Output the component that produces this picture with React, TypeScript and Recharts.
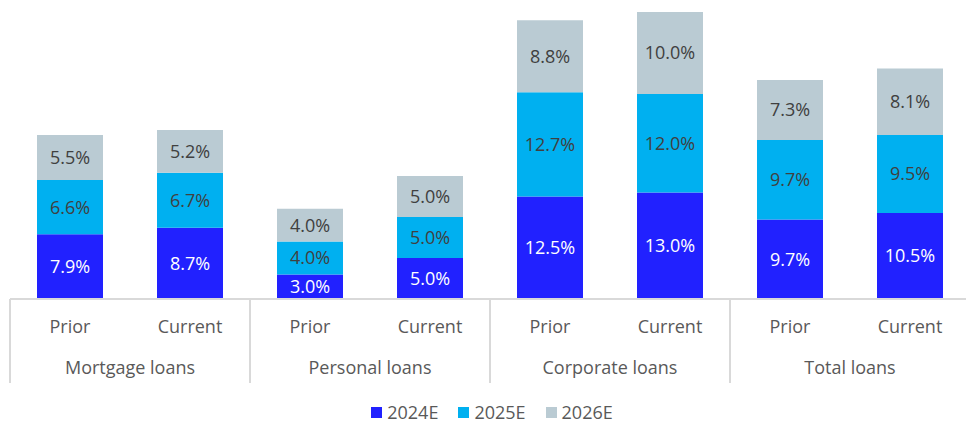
import { Bar, BarChart, LabelList, Legend, XAxis, YAxis } from 'recharts';

const periods = ['Prior', 'Current', 'Prior', 'Current', 'Prior', 'Current', 'Prior', 'Current'];
const groups = ['Mortgage loans', 'Personal loans', 'Corporate loans', 'Total loans'];
const y2024 = [7.9, 8.7, 3.0, 5.0, 12.5, 13.0, 9.7, 10.5];
const y2025 = [6.6, 6.7, 4.0, 5.0, 12.7, 12.0, 9.7, 9.5];
const y2026 = [5.5, 5.2, 4.0, 5.0, 8.8, 10.0, 7.3, 8.1];

const series = [
  { key: 'e2024', name: '2024E', color: '#2121FF', text: '#ffffff' },
  { key: 'e2025', name: '2025E', color: '#00B0F0', text: '#404040' },
  { key: 'e2026', name: '2026E', color: '#BACBD3', text: '#404040' },
];

const data = periods.map((p, i) => ({
  period: p,
  group: groups[Math.floor(i / 2)],
  e2024: y2024[i],
  e2025: y2025[i],
  e2026: y2026[i],
}));

const FONT = '"Open Sans", sans-serif';
const GRID = '#d9d9d9';

function AxisTick(props: any) {
  const { x, y, payload, index } = props;
  const half = payload?.offset ?? 60;
  const first = index % 2 === 0;
  return (
    <g>
      <text x={x} y={y + 34} textAnchor="middle" fill="#595959" fontSize={18} fontFamily={FONT}>
        {payload.value}
      </text>
      {first && (
        <>
          <line x1={x - half} x2={x - half} y1={y} y2={y + 84} stroke={GRID} strokeWidth={2} />
          <text x={x + half} y={y + 75} textAnchor="middle" fill="#595959" fontSize={18} fontFamily={FONT}>
            {data[index].group}
          </text>
        </>
      )}
    </g>
  );
}

function LegendRow() {
  return (
    <div
      style={{
        display: 'flex',
        justifyContent: 'center',
        gap: 20,
        paddingLeft: 18,
        fontFamily: FONT,
        fontSize: 18,
        color: '#595959',
        lineHeight: '24px',
      }}
    >
      {series.map((s) => (
        <div key={s.key} style={{ display: 'flex', alignItems: 'center' }}>
          <span style={{ width: 11, height: 11, background: s.color, display: 'inline-block', marginRight: 5 }} />
          <span>{s.name}</span>
        </div>
      ))}
    </div>
  );
}

export default function App() {
  return (
    <div style={{ position: 'absolute', left: 0, top: 0, width: 966, height: 424, overflow: 'hidden', background: '#fff' }}>
      <BarChart
        width={970}
        height={424}
        data={data}
        margin={{ top: 12, right: 0, left: 10, bottom: 0 }}
        barSize={66}
      >
        <YAxis hide domain={[0, 35]} />
        <XAxis
          dataKey="period"
          height={125}
          tickLine={false}
          tickSize={0}
          tickMargin={0}
          axisLine={{ stroke: GRID, strokeWidth: 2 }}
          tick={<AxisTick />}
          interval={0}
        />
        <Legend
          layout="horizontal"
          align="center"
          verticalAlign="middle"
          wrapperStyle={{ top: 400, left: 0, width: 966 }}
          content={() => <LegendRow />}
        />
        {series.map((s) => (
          <Bar key={s.key} dataKey={s.key} name={s.name} stackId="a" fill={s.color} isAnimationActive={false}>
            <LabelList
              dataKey={s.key}
              position="center"
              fill={s.text}
              fontSize={18}
              fontFamily={FONT}
              formatter={(v: any) => `${Number(v).toFixed(1)}%`}
            />
          </Bar>
        ))}
      </BarChart>
    </div>
  );
}
